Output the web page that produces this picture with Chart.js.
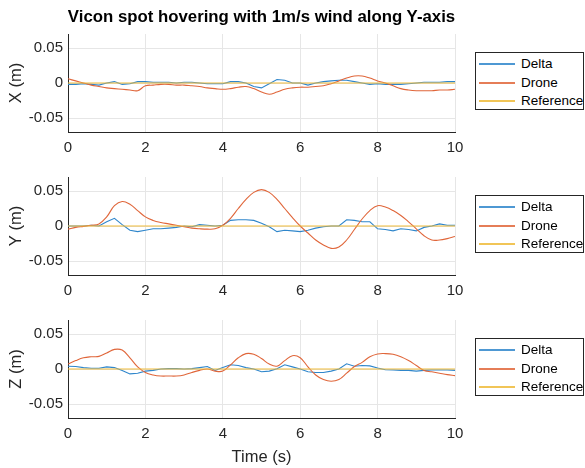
<!DOCTYPE html>
<html>
<head>
<meta charset="utf-8">
<script src="https://cdn.jsdelivr.net/npm/chart.js@4.4.0/dist/chart.umd.min.js"></script>
<style>
  body { margin: 0; background: #fff; }
  #wrap { position: relative; width: 585px; height: 468px; overflow: hidden; font-family: "Liberation Sans", Arial, Helvetica, sans-serif; }
  canvas { position: absolute; left: 0; }
  .title { position: absolute; left: 60px; width: 403px; top: 7px; text-align: center; font-weight: bold; font-size: 16.8px; line-height: 20px; color: #000; white-space: nowrap; }
  .legend { position: absolute; left: 475px; width: 109px; height: 58px; box-sizing: border-box; border: 1px solid #262626; background: #fff; font-size: 13.5px; color: #000; }
  .legend .row { position: absolute; left: 0; height: 18px; line-height: 18px; width: 100%; }
  .legend .swatch { position: absolute; left: 3px; top: 8px; width: 36px; height: 2px; opacity: 0.85; }
  .legend .label { position: absolute; left: 45px; white-space: nowrap; }
</style>
</head>
<body>
<div id="wrap">
  <canvas id="chartX" width="585" height="142" style="top:20px"></canvas>
  <canvas id="chartY" width="585" height="142" style="top:163px"></canvas>
  <canvas id="chartZ" width="585" height="162" style="top:306px"></canvas>
  <div class="title">Vicon spot hovering with 1m/s wind along Y-axis</div>
  <div class="legend" id="legendX" style="top:52px"></div>
  <div class="legend" id="legendY" style="top:195px"></div>
  <div class="legend" id="legendZ" style="top:338px"></div>
</div>
<script>
// time stamps (s)
const time = [0, 0.2, 0.4, 0.6, 0.8, 1.0, 1.2, 1.4, 1.6, 1.8,
              2.0, 2.2, 2.4, 2.6, 2.8, 3.0, 3.2, 3.4, 3.6, 3.8,
              4.0, 4.2, 4.4, 4.6, 4.8, 5.0, 5.2, 5.4, 5.6, 5.8,
              6.0, 6.2, 6.4, 6.6, 6.8, 7.0, 7.2, 7.4, 7.6, 7.8,
              8.0, 8.2, 8.4, 8.6, 8.8, 9.0, 9.2, 9.4, 9.6, 9.8,
              10];

const xDelta = [-0.002, -0.002, -0.001, -0.002, -0.003, 0.000, 0.002, -0.002, -0.001, 0.002,
                0.002, 0.001, 0.001, 0.001, 0.000, 0.001, 0.001, 0.000, -0.001, -0.001,
                -0.001, 0.002, 0.002, 0.000, -0.005, -0.007, -0.001, 0.005, 0.004, 0.000,
                0.000, -0.003, 0.000, 0.002, 0.003, 0.004, 0.004, 0.002, 0.000, -0.002,
                -0.001, -0.002, -0.002, -0.002, -0.001, 0.000, 0.001, 0.001, 0.001, 0.002,
                0.002];
const xDrone = [0.006, 0.003, 0.000, -0.003, -0.005, -0.007, -0.008, -0.009, -0.010, -0.011,
                -0.004, -0.003, -0.002, -0.002, -0.003, -0.003, -0.004, -0.005, -0.007, -0.008,
                -0.009, -0.008, -0.006, -0.005, -0.008, -0.013, -0.016, -0.013, -0.009, -0.007,
                -0.006, -0.006, -0.005, -0.004, -0.001, 0.003, 0.007, 0.010, 0.010, 0.007,
                0.003, 0.000, -0.004, -0.008, -0.010, -0.011, -0.011, -0.011, -0.010, -0.010,
                -0.009];

const yDelta = [0.000, 0.000, 0.000, 0.001, 0.000, 0.006, 0.011, 0.002, -0.006, -0.008,
                -0.006, -0.004, -0.004, -0.003, -0.002, 0.000, -0.001, 0.002, 0.001, 0.000,
                0.001, 0.008, 0.009, 0.009, 0.008, 0.004, -0.001, -0.008, -0.006, -0.007,
                -0.008, -0.006, -0.003, -0.001, 0.000, 0.000, 0.009, 0.008, 0.006, 0.006,
                -0.004, -0.005, -0.007, -0.004, -0.005, -0.007, -0.002, 0.000, 0.003, 0.001,
                0.001];
const yDrone = [-0.0045, -0.002, -0.0005, 0.001, 0.003, 0.013, 0.029, 0.035, 0.031, 0.022,
                0.013, 0.008, 0.005, 0.003, 0.001, -0.001, -0.003, -0.004, -0.0045, -0.004,
                0.001, 0.011, 0.025, 0.038, 0.048, 0.052, 0.048, 0.038, 0.025, 0.012,
                0.000, -0.010, -0.020, -0.027, -0.032, -0.030, -0.020, -0.005, 0.010, 0.022,
                0.029, 0.027, 0.022, 0.015, 0.006, -0.004, -0.014, -0.020, -0.020, -0.018,
                -0.015];

const zDelta = [0.004, 0.0035, 0.002, 0.001, 0.001, 0.003, 0.002, -0.002, -0.007, -0.006,
                -0.003, -0.002, 0.000, 0.0005, 0.0005, 0.000, 0.0005, 0.002, 0.0035, -0.002,
                0.002, 0.006, 0.005, 0.002, 0.000, -0.004, -0.003, 0.0005, 0.006, 0.003,
                0.000, -0.004, -0.005, -0.005, -0.003, 0.000, 0.0075, 0.004, 0.005, 0.0045,
                0.0015, -0.001, -0.0015, -0.002, -0.002, -0.003, -0.002, -0.0015, -0.0015, -0.0015,
                -0.002];
const zDrone = [0.007, 0.012, 0.016, 0.0175, 0.018, 0.023, 0.028, 0.027, 0.016, 0.003,
                -0.005, -0.0085, -0.010, -0.010, -0.010, -0.0085, -0.005, -0.002, 0.000, -0.003,
                -0.003, 0.006, 0.016, 0.022, 0.021, 0.015, 0.007, 0.004, 0.012, 0.019,
                0.016, 0.003, -0.0085, -0.015, -0.0175, -0.015, -0.006, 0.0035, 0.0095, 0.0175,
                0.0215, 0.022, 0.021, 0.0175, 0.012, 0.005, -0.002, -0.004, -0.006, -0.008,
                -0.0095];

const referenceTime = [0, 10];
const reference = [0, 0];

const seriesNames = ['Delta', 'Drone', 'Reference'];
const seriesColors = ['#2f86cb', '#e0663a', '#efbb3a'];

const timeTicks = [0, 2, 4, 6, 8, 10];
const posTicks = [-0.05, 0, 0.05];

const fontFamily = '"Liberation Sans", Arial, Helvetica, sans-serif';
const axisColor = '#262626';
const gridColor = '#e6e6e6';

function toPoints(xs, ys) {
    return ys.map((v, i) => ({ x: xs[i], y: v }));
}

function makeChart(id, delta, drone, yLabel, xAxisHeight, showTime) {
    const ctx = document.getElementById(id).getContext('2d');
    return new Chart(ctx, {
        type: 'line',
        data: {
            datasets: [{
                label: seriesNames[0],
                data: toPoints(time, delta),
                borderColor: seriesColors[0],
                borderWidth: 1.1,
                tension: 0,
                order: 3
            }, {
                label: seriesNames[1],
                data: toPoints(time, drone),
                borderColor: seriesColors[1],
                borderWidth: 1.1,
                tension: 0.4,
                order: 2
            }, {
                label: seriesNames[2],
                data: toPoints(referenceTime, reference),
                borderColor: seriesColors[2],
                borderWidth: 1.1,
                order: 1
            }]
        },
        options: {
            responsive: false,
            animation: false,
            layout: { padding: { top: 10, left: 0, right: 130, bottom: 0 } },
            elements: { point: { radius: 0 } },
            plugins: {
                legend: { display: false },
                tooltip: { enabled: false }
            },
            scales: {
                x: {
                    type: 'linear',
                    min: 0,
                    max: 10,
                    afterBuildTicks: s => { s.ticks = timeTicks.map(v => ({ value: v })); },
                    afterFit: s => { s.height = xAxisHeight; },
                    grid: { color: gridColor, drawTicks: false },
                    border: { display: true, color: axisColor, width: 1 },
                    ticks: { color: axisColor, font: { family: fontFamily, size: 15 }, padding: 7, maxRotation: 0 },
                    title: {
                        display: showTime,
                        text: 'Time (s)',
                        color: axisColor,
                        font: { family: fontFamily, size: 16.5 },
                        padding: { top: 0, bottom: 1 }
                    }
                },
                y: {
                    min: -0.07,
                    max: 0.07,
                    afterBuildTicks: s => { s.ticks = posTicks.map(v => ({ value: v })); },
                    afterFit: s => { s.width = 68; },
                    grid: { color: gridColor, drawTicks: false },
                    border: { display: true, color: axisColor, width: 1 },
                    ticks: {
                        color: axisColor,
                        font: { family: fontFamily, size: 15 },
                        padding: 5,
                        callback: v => String(v)
                    },
                    title: {
                        display: true,
                        text: yLabel,
                        color: axisColor,
                        font: { family: fontFamily, size: 16.5 },
                        padding: { top: 7, bottom: 0 }
                    }
                }
            }
        }
    });
}

function buildLegend(id) {
    const box = document.getElementById(id);
    seriesNames.forEach((name, i) => {
        const row = document.createElement('div');
        row.className = 'row';
        row.style.top = Math.round(2.4 + i * 18.3) + 'px';
        row.innerHTML = '<span class="swatch" style="background:' + seriesColors[i] + '"></span>' +
                        '<span class="label">' + name + '</span>';
        box.appendChild(row);
    });
}

makeChart('chartX', xDelta, xDrone, 'X (m)', 30, false);
makeChart('chartY', yDelta, yDrone, 'Y (m)', 30, false);
makeChart('chartZ', zDelta, zDrone, 'Z (m)', 50, true);

buildLegend('legendX');
buildLegend('legendY');
buildLegend('legendZ');
</script>
</body>
</html>
